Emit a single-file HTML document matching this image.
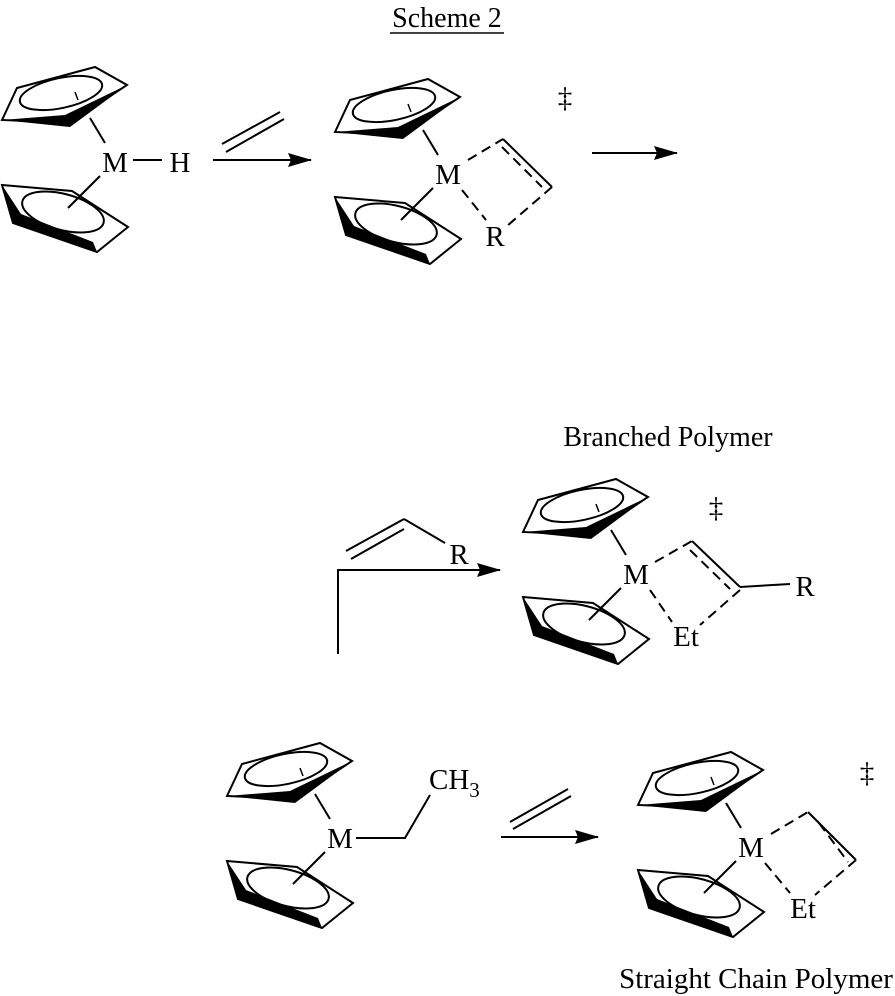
<!DOCTYPE html>
<html><head><meta charset="utf-8"><style>
html,body{margin:0;padding:0;background:#fff;}
svg{display:block;}
text{font-family:"Liberation Serif",serif;fill:#000;}
</style></head><body>
<svg width="895" height="996" viewBox="0 0 895 996" xmlns="http://www.w3.org/2000/svg">
<defs>
<g id="cp">
  <polygon points="-113,-42 -98,-74 -20,-95 12,-77 -45,-39" fill="none" stroke="#000" stroke-width="2"/>
  <polygon points="-113,-42 -45,-35 12,-77 -50,-47" fill="#000"/>
  <ellipse cx="-54" cy="-69" rx="42" ry="15" transform="rotate(-12 -54 -69)" fill="none" stroke="#000" stroke-width="2"/>
  <line x1="-40" y1="-70" x2="-37" y2="-62" stroke="#000" stroke-width="1.5"/>
  <line x1="-25" y1="-44" x2="-10" y2="-19" stroke="#000" stroke-width="2"/>
  <polygon points="-113,23 -43,29 13,65 -18,90 -102,61" fill="none" stroke="#000" stroke-width="2"/>
  <polygon points="-113,23 -102,61 -18,90 -22,80 -94,52" fill="#000"/>
  <ellipse cx="-52" cy="50" rx="42" ry="18" transform="rotate(15 -52 50)" fill="none" stroke="#000" stroke-width="2"/>
  <line x1="-15" y1="14" x2="-47" y2="46" stroke="#000" stroke-width="2"/>
  <text x="0" y="10" font-size="29" text-anchor="middle">M</text>
</g>
<marker id="ah" markerWidth="24" markerHeight="14" refX="23" refY="7" orient="auto" markerUnits="userSpaceOnUse">
  <path d="M0,0 L24,7 L0,14 L3,7 Z" fill="#000"/>
</marker>
</defs>

<text x="447" y="27" font-size="28" text-anchor="middle">Scheme 2</text>
<line x1="390" y1="33" x2="504" y2="33" stroke="#000" stroke-width="1.5"/>

<!-- A -->
<use href="#cp" x="115" y="162"/>
<line x1="133" y1="160" x2="162" y2="160" stroke="#000" stroke-width="2"/>
<text x="180" y="172" font-size="29" text-anchor="middle">H</text>
<line x1="222" y1="144" x2="280" y2="112" stroke="#000" stroke-width="2"/>
<line x1="226" y1="152" x2="284" y2="119" stroke="#000" stroke-width="2"/>
<line x1="213" y1="160" x2="311" y2="160" stroke="#000" stroke-width="2" marker-end="url(#ah)"/>

<!-- B -->
<use href="#cp" x="448" y="174"/>
<line x1="468" y1="160" x2="503" y2="139" stroke="#000" stroke-width="2" stroke-dasharray="10,6"/>
<line x1="503" y1="139" x2="552" y2="187" stroke="#000" stroke-width="2"/>
<line x1="502" y1="147" x2="542" y2="187" stroke="#000" stroke-width="2" stroke-dasharray="10,6"/>
<line x1="552" y1="187" x2="507" y2="226" stroke="#000" stroke-width="2" stroke-dasharray="10,6"/>
<line x1="462" y1="190" x2="486" y2="220" stroke="#000" stroke-width="2" stroke-dasharray="10,6"/>
<text x="495" y="246" font-size="29" text-anchor="middle">R</text>
<text x="565" y="107" font-size="29" text-anchor="middle">‡</text>
<line x1="592" y1="153" x2="677" y2="153" stroke="#000" stroke-width="2" marker-end="url(#ah)"/>

<!-- Branched -->
<text x="668" y="446" font-size="28" text-anchor="middle">Branched Polymer</text>
<polyline points="338,654 338,570 500,570" fill="none" stroke="#000" stroke-width="2" marker-end="url(#ah)"/>
<line x1="346" y1="551" x2="404" y2="519" stroke="#000" stroke-width="2"/>
<line x1="351" y1="559" x2="404" y2="529" stroke="#000" stroke-width="2"/>
<line x1="404" y1="519" x2="445" y2="543" stroke="#000" stroke-width="2"/>
<text x="459" y="564" font-size="29" text-anchor="middle">R</text>
<use href="#cp" x="636" y="574"/>
<line x1="655" y1="562" x2="692" y2="541" stroke="#000" stroke-width="2" stroke-dasharray="10,6"/>
<line x1="692" y1="541" x2="740" y2="587" stroke="#000" stroke-width="2"/>
<line x1="690" y1="550" x2="730" y2="589" stroke="#000" stroke-width="2" stroke-dasharray="10,6"/>
<line x1="740" y1="587" x2="790" y2="584" stroke="#000" stroke-width="2"/>
<text x="805" y="596" font-size="29" text-anchor="middle">R</text>
<line x1="740" y1="590" x2="700" y2="625" stroke="#000" stroke-width="2" stroke-dasharray="10,6"/>
<line x1="650" y1="590" x2="672" y2="622" stroke="#000" stroke-width="2" stroke-dasharray="10,6"/>
<text x="686" y="646" font-size="29" text-anchor="middle">Et</text>
<text x="716" y="517" font-size="29" text-anchor="middle">‡</text>

<!-- D -->
<use href="#cp" x="340" y="838"/>
<polyline points="356,838 405,838 430,795" fill="none" stroke="#000" stroke-width="2"/>
<text x="429" y="789" font-size="29">CH<tspan font-size="21" dy="8">3</tspan></text>
<line x1="510" y1="822" x2="568" y2="789" stroke="#000" stroke-width="2"/>
<line x1="513" y1="829" x2="571" y2="796" stroke="#000" stroke-width="2"/>
<line x1="501" y1="837" x2="598" y2="837" stroke="#000" stroke-width="2" marker-end="url(#ah)"/>

<!-- E -->
<use href="#cp" x="751" y="847"/>
<line x1="771" y1="834" x2="808" y2="812" stroke="#000" stroke-width="2" stroke-dasharray="10,6"/>
<line x1="808" y1="812" x2="856" y2="860" stroke="#000" stroke-width="2"/>
<line x1="819" y1="823" x2="848" y2="862" stroke="#000" stroke-width="2" stroke-dasharray="10,6"/>
<line x1="856" y1="860" x2="815" y2="895" stroke="#000" stroke-width="2" stroke-dasharray="10,6"/>
<line x1="765" y1="863" x2="790" y2="893" stroke="#000" stroke-width="2" stroke-dasharray="10,6"/>
<text x="803" y="918" font-size="29" text-anchor="middle">Et</text>
<text x="867" y="782" font-size="29" text-anchor="middle">‡</text>
<text x="756" y="988" font-size="29" text-anchor="middle">Straight Chain Polymer</text>
</svg>
</body></html>
